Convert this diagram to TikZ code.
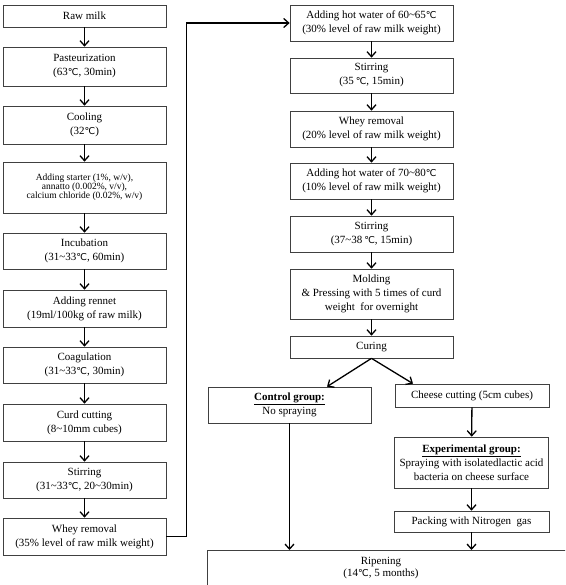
\documentclass[tikz,border=0pt]{standalone}
\usepackage{fontspec}
\setmainfont{Liberation Serif}
\newfontfamily\degfont{DejaVu Sans}
\newcommand{\dC}{{\degfont\fontsize{9.5}{9.5}\selectfont ℃}}
\newcommand{\tld}{\textasciitilde}
\usetikzlibrary{arrows.meta,calc}
\begin{document}
\begin{tikzpicture}[x=1pt,y=-1pt,
  box/.style={draw=black!75, line width=0.7pt, fill=white, align=center, inner sep=1pt,
    font=\fontsize{11}{14}\selectfont},
  lbox/.style={box, minimum width=163pt},
  rbox/.style={box, minimum width=163pt},
  arr/.style={-{Straight Barb[length=5pt,width=9pt,line width=1.3pt]}, line width=1.3pt, black}]
\clip (0,0) rectangle (565,585);
\fill[white] (0,0) rectangle (565,585);
% left column
\node[lbox, minimum height=22pt] (raw) at (84.5,16) {Raw milk};
\node[lbox, minimum height=39pt] (past) at (84.5,66.5) {Pasteurization\\(63\dC, 30min)};
\node[lbox, minimum height=38pt] (cool) at (84.5,125) {Cooling\\(32\dC)};
\node[lbox, minimum height=51pt, font=\fontsize{9.5}{9}\selectfont] (start) at (84.5,187.5)
  {Adding starter (1\%, w/v),\\annatto (0.002\%, v/v),\\calcium chloride (0.02\%, w/v)};
\node[lbox, minimum height=36pt] (incub) at (84.5,251) {Incubation\\(31\tld33\dC, 60min)};
\node[lbox, minimum height=37pt] (rennet) at (84.5,308.5) {Adding rennet\\(19ml/100kg of raw milk)};
\node[lbox, minimum height=36pt] (coag) at (84.5,365) {Coagulation\\(31\tld33\dC, 30min)};
\node[lbox, minimum height=37pt] (curd) at (84.5,422.5) {Curd cutting\\(8\tld10mm cubes)};
\node[lbox, minimum height=36pt] (stir) at (84.5,480) {Stirring\\(31\tld33\dC, 20\tld30min)};
\node[lbox, minimum height=37pt] (whey) at (84.5,536.5) {Whey removal\\(35\% level of raw milk weight)};
% right column
\node[rbox, minimum height=36pt] (hot1) at (371.5,23) {Adding hot water of 60\tld65\dC\\(30\%\ level of raw milk weight)};
\node[rbox, minimum height=35pt] (stir2) at (371.5,75.5) {Stirring\\(35\,\dC, 15min)};
\node[rbox, minimum height=36pt] (whey2) at (371.5,129) {Whey removal\\(20\% level of raw milk weight)};
\node[rbox, minimum height=36pt] (hot2) at (371.5,181) {Adding hot water of 70\tld80\dC\\(10\% level of raw milk weight)};
\node[rbox, minimum height=36pt] (stir3) at (371.5,234) {Stirring\\(37\tld38\,\dC, 15min)};
\node[rbox, minimum height=50pt] (mold) at (371.5,294) {Molding\\\& Pressing with 5 times of curd\\weight\ \ for overnight};
\node[rbox, minimum height=22pt] (cure) at (371.5,347) {Curing};
% bottom part
\node[box, minimum width=163pt, minimum height=36pt] (ctrl) at (289.5,405)
  {\underline{\textbf{Control group:}}\\No spraying};
\node[box, minimum width=154pt, minimum height=23pt] (cheese) at (472,395.5) {Cheese cutting (5cm cubes)};
\node[box, minimum width=154pt, minimum height=51pt] (exp) at (471.5,462.5)
  {\underline{\textbf{Experimental group:}}\\Spraying with isolatedlactic acid\\bacteria on cheese surface};
\node[box, minimum width=155pt, minimum height=21pt] (pack) at (471.5,521.5) {Packing with Nitrogen\ \ gas};
\node[box, minimum width=360pt, minimum height=44pt, anchor=north] (ripen) at (387,550) {};
\node[align=center, font=\fontsize{11}{12}\selectfont, inner sep=0pt] (riptext) at (381,568) {Ripening\\(14\dC, 5 months)};
% arrows left
\draw[arr] (raw) -- (past);
\draw[arr] (past) -- (cool);
\draw[arr] (cool) -- (start);
\draw[arr] (start) -- (incub);
\draw[arr] (incub) -- (rennet);
\draw[arr] (rennet) -- (coag);
\draw[arr] (coag) -- (curd);
\draw[arr] (curd) -- (stir);
\draw[arr] (stir) -- (whey);
\draw[arr] (whey.east) -- ++(20,0) |- (hot1.west);
% arrows right
\draw[arr] (hot1) -- (stir2);
\draw[arr] (stir2) -- (whey2);
\draw[arr] (whey2) -- (hot2);
\draw[arr] (hot2) -- (stir3);
\draw[arr] (stir3) -- (mold);
\draw[arr] (mold) -- (cure);
\draw[arr] (cure.south) -- ($(ctrl.north)+(37.5,0)$);
\draw[arr] (cure.south) -- ($(cheese.north)+(-59,0)$);
\draw[arr] (cheese) -- (exp);
\draw[arr] (exp) -- (pack);
\draw[arr] (ctrl.south) -- (ctrl.south |- ripen.north);
\draw[arr] (pack.south) -- (pack.south |- ripen.north);
\end{tikzpicture}
\end{document}
